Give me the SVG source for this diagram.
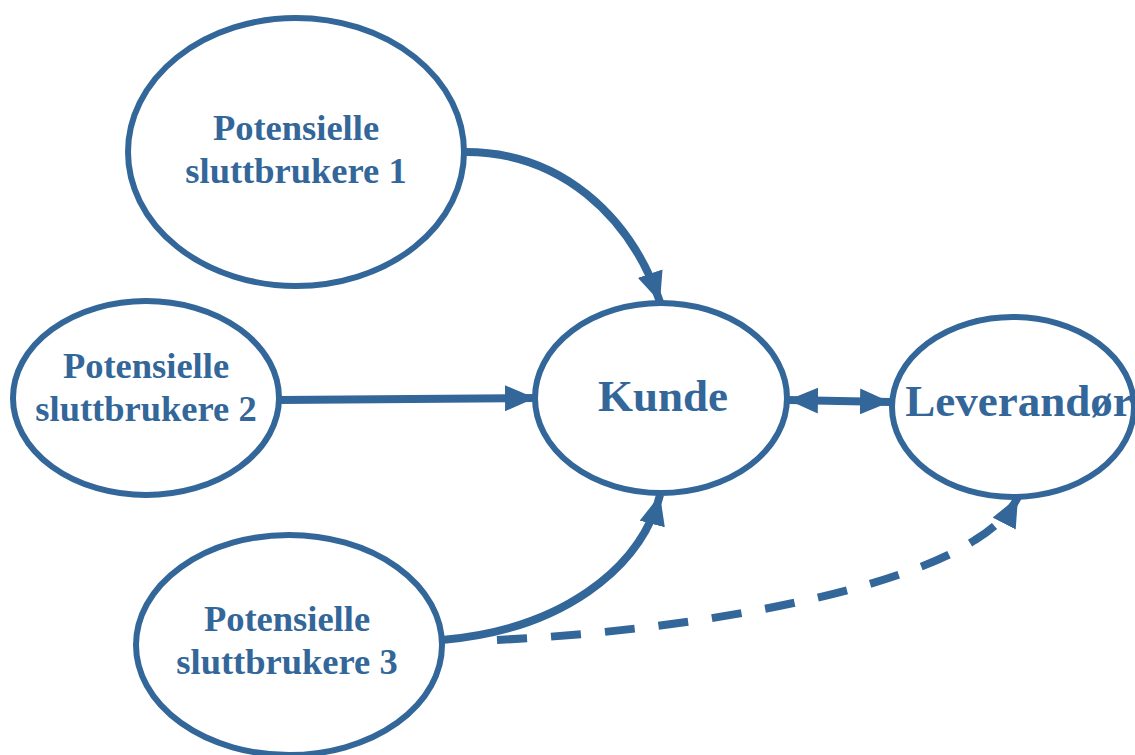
<svg xmlns="http://www.w3.org/2000/svg" width="1135" height="755" viewBox="0 0 1135 755">
  <style>
    .node { fill: #ffffff; stroke: #336699; stroke-width: 6; }
    .lbl { font-family: "Liberation Serif", "Times New Roman", serif; font-weight: bold; fill: #336699; text-anchor: middle; }
    .small { font-size: 36.5px; }
    .big { font-size: 45px; }
    .edge { fill: none; stroke: #336699; stroke-width: 8; }
    .dash { stroke-dasharray: 30 24; }
  </style>
  <defs>
    <marker id="arrow" markerUnits="userSpaceOnUse" viewBox="0 0 30 26" refX="30" refY="13" markerWidth="30" markerHeight="26" orient="auto-start-reverse">
      <path d="M0,0 L30,13 L0,26 Z" fill="#336699"/>
    </marker>
  </defs>

  <g id="node-sluttbrukere-1">
    <ellipse class="node" cx="296" cy="152" rx="168" ry="134"/>
    <text class="lbl small" x="296" y="140">Potensielle</text>
    <text class="lbl small" x="296" y="183">sluttbrukere 1</text>
  </g>
  <g id="node-sluttbrukere-2">
    <ellipse class="node" cx="146" cy="398" rx="133" ry="97"/>
    <text class="lbl small" x="146" y="378">Potensielle</text>
    <text class="lbl small" x="146" y="421">sluttbrukere 2</text>
  </g>
  <g id="node-sluttbrukere-3">
    <ellipse class="node" cx="289" cy="645" rx="153" ry="110"/>
    <text class="lbl small" x="287" y="631">Potensielle</text>
    <text class="lbl small" x="287" y="674">sluttbrukere 3</text>
  </g>
  <g id="node-kunde">
    <ellipse class="node" cx="661" cy="398" rx="126" ry="95"/>
    <text class="lbl big" x="663" y="411">Kunde</text>
  </g>
  <g id="node-leverandor">
    <ellipse class="node" cx="1013" cy="407" rx="121" ry="90"/>
    <text class="lbl big" x="1019" y="416">Leverandør</text>
  </g>

  <g id="connectors">
    <path class="edge" d="M466,152 C560,152 630,215 660,302" marker-end="url(#arrow)"/>
    <path class="edge" d="M280,400 L535,398" marker-end="url(#arrow)"/>
    <path class="edge" d="M442,640 C560,630 640,570 660,495" marker-end="url(#arrow)"/>
    <path class="edge dash" d="M497,640 C700,630 900,590 975,540 Q1005,522 1018,497" marker-end="url(#arrow)"/>
    <path class="edge" d="M788,400 L890,402" marker-start="url(#arrow)" marker-end="url(#arrow)"/>
  </g>
</svg>
